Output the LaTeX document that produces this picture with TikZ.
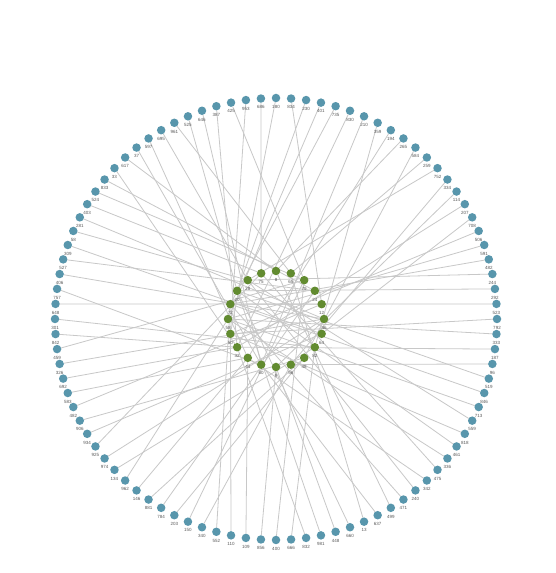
\documentclass[tikz,border=0pt]{standalone}
\usepackage{fontspec}
\setmainfont{Liberation Sans}
\usetikzlibrary{backgrounds}
\definecolor{outerc}{RGB}{88,150,172}
\definecolor{innerc}{RGB}{98,139,48}
\definecolor{edgec}{RGB}{200,200,200}
\definecolor{labc}{RGB}{90,90,90}
\tikzset{
  onode/.style={circle,fill=outerc,minimum size=8.5pt,inner sep=0pt,outer sep=0pt},
  inode/.style={circle,fill=innerc,minimum size=8.5pt,inner sep=0pt,outer sep=0pt},
  lbl/.style={font=\fontsize{4.5}{5}\selectfont,text=labc,inner sep=0pt},
  edge/.style={draw=edgec,line width=0.8pt}
}
\begin{document}
\begin{tikzpicture}[x=1pt,y=1pt]
\useasboundingbox (0,0) rectangle (555,573);
\begin{pgfonlayer}{background}
  \fill[white] (0,0) rectangle (555,573);
\end{pgfonlayer}
\begin{scope}[shift={(276,254)}]
\foreach \k/\t in {0/8,1/65,2/79,3/24,4/12,5/46,6/64,7/82,8/48,9/56,10/9,11/60,12/44,13/32,14/50,15/58,16/72,17/20,18/28,19/75} {
  \node[inode] (i\k) at ({90-18*\k}:48) {};
  \node[lbl] (li\k) at ([yshift=-8.7pt]i\k.center) {\t};
}
\foreach \j/\t/\k in {0/180/14,1/834/4,2/230/17,3/401/15,4/735/16,5/830/13,6/210/11,7/359/7,8/194/12,9/265/0,
  10/584/8,11/259/1,12/752/18,13/334/9,14/114/10,15/207/13,16/708/6,17/506/14,18/591/15,19/482/16,
  20/244/18,21/292/17,22/523/16,23/792/14,24/333/15,25/187/13,26/96/9,27/519/17,28/846/16,29/713/15,
  30/559/18,31/818/14,32/461/17,33/336/15,34/475/19,35/342/12,36/240/18,37/471/16,38/499/0,39/637/11,
  40/13/1,41/660/17,42/448/10,43/981/17,44/832/13,45/666/7,46/400/2,47/856/10,48/109/12,49/110/14,
  50/552/16,51/340/9,52/150/2,53/203/8,54/784/3,55/881/8,56/146/12,57/962/15,58/134/7,59/974/5,
  60/925/19,61/934/6,62/906/8,63/482/4,64/583/12,65/692/13,66/326/5,67/459/2,68/842/13,69/301/7,
  70/648/4,71/757/11,72/406/5,73/527/3,74/309/6,75/58/18,76/281/5,77/403/19,78/524/2,79/833/3,
  80/33/13,81/617/0,82/37/11,83/597/12,84/695/18,85/961/1,86/525/17,87/646/11,88/387/13,89/425/2,
  90/953/14,91/686/19} {
  \node[onode] (o\j) at ({90-\j*3.913043}:221) {};
  \node[lbl] (lo\j) at ([yshift=-8.7pt]o\j.center) {\t};
  \begin{pgfonlayer}{background}
    \draw[edge] (o\j) -- (i\k);
  \end{pgfonlayer}
}
\end{scope}
\end{tikzpicture}
\end{document}
